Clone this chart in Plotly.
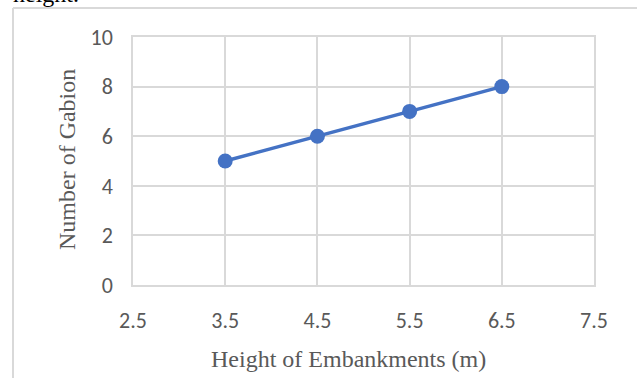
import plotly.graph_objects as go

# Embankment height (m) vs number of gabions
heights = [3.5, 4.5, 5.5, 6.5]
gabions = [5, 6, 7, 8]

x_ticks = [2.5, 3.5, 4.5, 5.5, 6.5, 7.5]
y_ticks = [0, 2, 4, 6, 8, 10]

W, H = 637, 378
L, R, T, B = 133, 43, 37, 93
pw, ph = W - L - R, H - T - B


def px(x):
    return (x - L) / pw


def py(y):
    return (H - B - y) / ph


grid = "#d9d9d9"
tick_font = dict(family="Carlito, Open Sans, sans-serif", size=22, color="#595959")
title_font = dict(family="Liberation Serif, Times New Roman, serif", size=24, color="#595959")

fig = go.Figure(
    go.Scatter(
        x=heights,
        y=gabions,
        mode="lines+markers",
        line=dict(color="#4472C4", width=3.5),
        marker=dict(color="#4472C4", size=15),
        showlegend=False,
    )
)

fig.update_xaxes(
    range=[2.5, 7.5],
    tickvals=x_ticks,
    ticktext=[f"{v:.1f}" for v in x_ticks],
    showgrid=True,
    gridcolor=grid,
    gridwidth=1.5,
    zeroline=False,
    showline=True,
    linecolor=grid,
    linewidth=1.5,
    mirror=True,
    ticks="",
    tickfont=tick_font,
    ticklabelstandoff=15,
)
fig.update_yaxes(
    range=[0, 10],
    tickvals=y_ticks,
    showgrid=True,
    gridcolor=grid,
    gridwidth=1.5,
    zeroline=False,
    showline=True,
    linecolor=grid,
    linewidth=1.5,
    mirror=True,
    ticks="",
    tickfont=tick_font,
    ticklabelstandoff=14,
)

fig.update_layout(
    width=W,
    height=H,
    margin=dict(l=L, r=R, t=T, b=B),
    paper_bgcolor="white",
    plot_bgcolor="white",
    shapes=[
        # outer chart frame (top and left edges)
        dict(type="line", xref="paper", yref="paper",
             x0=px(13), x1=px(W + 5), y0=py(8), y1=py(8),
             line=dict(color=grid, width=2)),
        dict(type="line", xref="paper", yref="paper",
             x0=px(13), x1=px(13), y0=py(8), y1=py(H + 5),
             line=dict(color=grid, width=2)),
    ],
    annotations=[
        dict(text="Height of Embankments (m)", xref="paper", yref="paper",
             x=px(348), y=py(359), xanchor="center", yanchor="middle",
             showarrow=False, font=title_font),
        dict(text="Number of Gabion", xref="paper", yref="paper",
             x=px(67), y=py(160), xanchor="center", yanchor="middle",
             textangle=-90, showarrow=False, font=title_font),
        dict(text="height.", xref="paper", yref="paper",
             x=px(11), y=py(9), xanchor="left", yanchor="bottom",
             showarrow=False,
             font=dict(family="Liberation Serif, Times New Roman, serif", size=24, color="black")),
    ],
)

fig.write_html("out.html")
